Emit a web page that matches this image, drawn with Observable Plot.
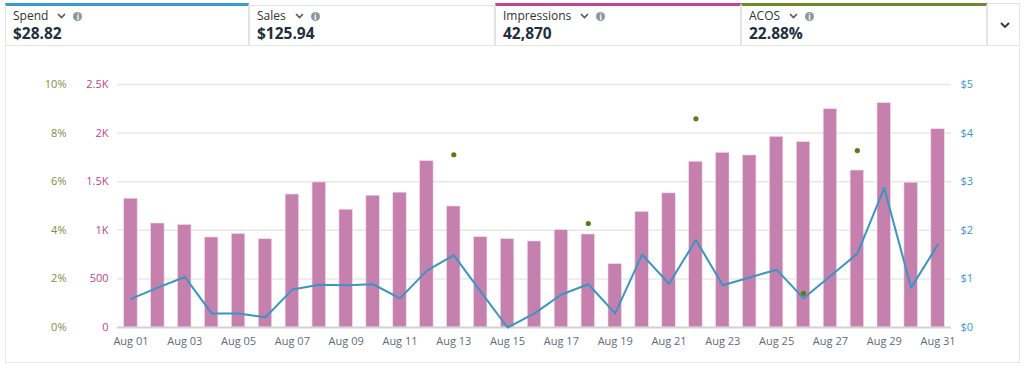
<!DOCTYPE html>
<html>
<head>
<meta charset="utf-8">
<script src="https://cdn.jsdelivr.net/npm/d3@7"></script>
<script src="https://cdn.jsdelivr.net/npm/@observablehq/plot@0.6"></script>
<style>
  html, body { margin: 0; padding: 0; background: #fff; width: 1024px; height: 366px; overflow: hidden; font-family: "Open Sans", "Noto Sans", sans-serif; }
  .card { position: absolute; top: 3px; height: 43px; border: 1px solid #e4e4e4; border-top-width: 3px; background: #fff; box-sizing: border-box; }
  .lab { position: absolute; left: 7px; top: 3px; height: 14px; line-height: 14px; font-size: 12px; color: #333; display: flex; align-items: center; }
  .val { position: absolute; left: 7px; top: 18px; height: 18px; line-height: 18px; font-size: 15.5px; font-weight: 700; color: #232f3e; }
  .chev { margin-left: 9px; }
  .info { margin-left: 7px; width: 9px; height: 9px; border-radius: 50%; background: #8d959e; color: #fff; font-size: 8px; line-height: 9px; text-align: center; font-weight: 700; }
  #panel { position: absolute; left: 5px; top: 47px; width: 1015px; height: 316px; border: 1px solid #e8e8e8; border-top: none; box-sizing: border-box; }
  #chart { position: absolute; left: 5px; top: 47px; }
</style>
</head>
<body>
<div id="header"></div>
<div id="panel"></div>
<div id="chart"></div>
<script>
// ---- data ----
const dates = ["Aug 01","Aug 02","Aug 03","Aug 04","Aug 05","Aug 06","Aug 07","Aug 08","Aug 09","Aug 10",
  "Aug 11","Aug 12","Aug 13","Aug 14","Aug 15","Aug 16","Aug 17","Aug 18","Aug 19","Aug 20",
  "Aug 21","Aug 22","Aug 23","Aug 24","Aug 25","Aug 26","Aug 27","Aug 28","Aug 29","Aug 30","Aug 31"];
const impressions = [1325,1070,1055,926,962,908,1368,1492,1212,1356,1387,1712,1245,929,909,885,1001,957,652,1190,
  1380,1705,1797,1770,1962,1907,2246,1615,2308,1489,2040];
const spend = [0.59,0.82,1.04,0.29,0.29,0.21,0.78,0.88,0.87,0.89,0.60,1.17,1.49,0.74,0.00,0.29,0.68,0.89,0.29,1.50,
  0.90,1.80,0.87,1.03,1.19,0.60,1.06,1.52,2.87,0.82,1.71];
const acosDates = ["Aug 13","Aug 18","Aug 22","Aug 26","Aug 28"];
const acos = [7.11, 4.28, 8.59, 1.41, 7.28];
const tickDates = ["Aug 01","Aug 03","Aug 05","Aug 07","Aug 09","Aug 11","Aug 13","Aug 15","Aug 17","Aug 19","Aug 21","Aug 23","Aug 25","Aug 27","Aug 29","Aug 31"];
const impTicks = [0, 500, 1000, 1500, 2000, 2500];
const impTickLabels = ["0","500","1K","1.5K","2K","2.5K"];
const acosTickLabels = ["0%","2%","4%","6%","8%","10%"];
const spendTickLabels = ["$0","$1","$2","$3","$4","$5"];
const metricNames = ["Spend","Sales","Impressions","ACOS"];
const metricValues = ["$28.82","$125.94","42,870","22.88%"];
const metricColors = ["#3a9ad1", "#e4e4e4", "#c2458f", "#6f8a2c"];

// ---- header ----
const header = document.getElementById("header");
const cardLefts = [5, 249, 495, 741];
metricNames.forEach((n, i) => {
  const c = document.createElement("div");
  c.className = "card";
  c.style.left = cardLefts[i] + "px";
  c.style.width = (i < 3 ? cardLefts[i+1] - cardLefts[i] : 987 - 741) + "px";
  c.style.borderTopColor = metricColors[i];
  if (i === 1) { c.style.borderTopWidth = "1px"; c.style.top = "5px"; c.style.height = "41px"; }
  c.innerHTML = `<div class="lab">${n}<svg class="chev" width="9" height="6" viewBox="0 0 9 6"><path d="M1 1 L4.5 4.5 L8 1" fill="none" stroke="#555" stroke-width="1.6"/></svg><div class="info">i</div></div><div class="val">${metricValues[i]}</div>`;
  header.appendChild(c);
});
const more = document.createElement("div");
more.className = "card";
more.style.left = "987px"; more.style.width = "33px"; more.style.borderTopWidth = "1px"; more.style.top = "3px"; more.style.height="43px";
more.innerHTML = `<svg style="position:absolute;left:12px;top:18px" width="10" height="7" viewBox="0 0 10 7"><path d="M1 1 L5 5 L9 1" fill="none" stroke="#333" stroke-width="1.8"/></svg>`;
header.appendChild(more);

// ---- chart ----
const bars = dates.map((d, i) => ({date: d, v: impressions[i]}));
// secondary axes share the impressions scale: $5 and 10% map to 2.5K
const spendData = dates.map((d, i) => ({date: d, v: spend[i] * 500}));
const acosData = acosDates.map((d, i) => ({date: d, v: acos[i] * 250}));

const chart = Plot.plot({
  width: 1014,
  height: 314,
  marginLeft: 112,
  marginRight: 68,
  marginTop: 37,
  marginBottom: 34,
  style: {fontFamily: "'Open Sans', 'Noto Sans', sans-serif", fontSize: "11px", background: "transparent"},
  x: {type: "band", domain: dates, paddingInner: 0.5, paddingOuter: 0.25, align: 0.5, round: false, label: null},
  y: {domain: [0, 2500], label: null},
  marks: [
    Plot.ruleY(impTicks.slice(1), {stroke: "#e8e8e8", strokeWidth: 1.5}),
    Plot.barY(bars, {x: "date", y: "v", fill: "#c580ad", stroke: "#f3dcea", strokeWidth: 0.6}),
    Plot.ruleY([0], {stroke: "#d2d2d2", strokeWidth: 2}),
    Plot.line(spendData, {x: "date", y: "v", stroke: "#3b95c3", strokeWidth: 2}),
    Plot.dot(acosData, {x: "date", y: "v", r: 2.6, fill: "#5b7a1f"}),
    Plot.axisX({ticks: tickDates, tickSize: 0, tickPadding: 10, fill: "#5f6b7a", fontSize: 11, label: null}),
    Plot.axisY({anchor: "left", ticks: impTicks, tickSize: 0, tickPadding: 9, fill: "#b9468f",
      tickFormat: (d) => impTickLabels[impTicks.indexOf(d)], fontSize: 11, label: null}),
    Plot.axisY({anchor: "left", ticks: impTicks, tickSize: 0, tickPadding: 51, fill: "#7d9040",
      tickFormat: (d) => acosTickLabels[impTicks.indexOf(d)], fontSize: 11, label: null}),
    Plot.axisY({anchor: "right", ticks: impTicks, tickSize: 0, tickPadding: 9, fill: "#3a98cf",
      tickFormat: (d) => spendTickLabels[impTicks.indexOf(d)], fontSize: 11, label: null})
  ]
});
document.getElementById("chart").appendChild(chart);
</script>
</body>
</html>
